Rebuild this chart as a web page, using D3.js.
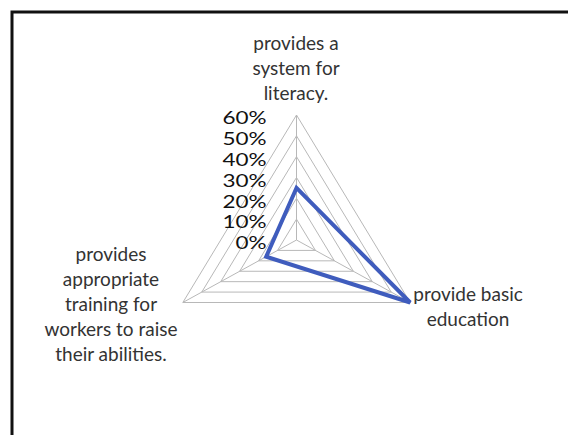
<!DOCTYPE html>
<html>
<head>
<meta charset="utf-8">
<script src="https://cdn.jsdelivr.net/npm/d3@7"></script>
<style>
  body { margin: 0; background: #fff; }
  svg { display: block; font-family: Lato, "Open Sans", sans-serif; }
</style>
</head>
<body>
<div id="chart"></div>
<script>
const width = 568;
const height = 435;

// data
const categories = [
    ["provides a", "system for", "literacy."],
    ["provide basic", "education"],
    ["provides", "appropriate", "training for", "workers to raise", "their abilities."]
];
const values = [0.25, 0.60, 0.16];
const tickValues = [0, 0.1, 0.2, 0.3, 0.4, 0.5, 0.6];

const cx = 296.5, cy = 240;
const xStretch = 1.05;

const svg = d3.select("#chart")
    .append("svg")
    .attr("width", width)
    .attr("height", height);

svg.append("rect")
    .attr("width", width)
    .attr("height", height)
    .attr("fill", "#fff");

// frame (cut at the right and bottom)
svg.append("path")
    .attr("d", `M12,${height + 5} L12,12 L${width + 5},12`)
    .attr("fill", "none")
    .attr("stroke", "#111")
    .attr("stroke-width", 3);

const rScale = d3.scaleLinear()
    .domain([0, 0.6])
    .range([0, 125]);

const angle = d3.scaleLinear()
    .domain([0, categories.length])
    .range([0, 2 * Math.PI]);

function pt(i, v) {
    const a = angle(i);
    return [cx + xStretch * rScale(v) * Math.sin(a), cy - rScale(v) * Math.cos(a)];
}

const line = d3.line().curve(d3.curveLinearClosed);

// grid rings
svg.append("g")
    .selectAll("path")
    .data(tickValues.filter(d => d > 0))
    .enter()
    .append("path")
    .attr("d", t => line(categories.map((c, i) => pt(i, t))))
    .attr("fill", "none")
    .attr("stroke", "#b8b8b8")
    .attr("stroke-width", 1);

// spokes
svg.append("g")
    .selectAll("line")
    .data(categories)
    .enter()
    .append("line")
    .attr("x1", cx)
    .attr("y1", cy)
    .attr("x2", (d, i) => pt(i, 0.6)[0])
    .attr("y2", (d, i) => pt(i, 0.6)[1])
    .attr("stroke", "#b8b8b8")
    .attr("stroke-width", 1);

// tick labels (wide font in the original, so stretch a bit)
svg.append("g")
    .selectAll("text")
    .data(tickValues)
    .enter()
    .append("text")
    .attr("transform", d => `translate(${cx - 30},${cy - rScale(d) + 3}) scale(1.25,1)`)
    .attr("dy", "0.35em")
    .attr("text-anchor", "end")
    .attr("fill", "#111")
    .style("font-size", "18px")
    .text(d3.format(".0%"));

// data series
svg.append("path")
    .attr("d", line(values.map((v, i) => pt(i, v))))
    .attr("fill", "none")
    .attr("stroke", "#3f5cbd")
    .attr("stroke-width", 4)
    .attr("stroke-linejoin", "miter");

// category labels
const labelPos = [
    { x: 296, y: 50 },
    { x: 468, y: 301 },
    { x: 111, y: 261 }
];

const labels = svg.append("g")
    .selectAll("text")
    .data(categories)
    .enter()
    .append("text")
    .attr("x", (d, i) => labelPos[i].x)
    .attr("y", (d, i) => labelPos[i].y)
    .attr("text-anchor", "middle")
    .attr("fill", "#333")
    .style("font-size", "19px");

labels.each(function(d, i) {
    d3.select(this).selectAll("tspan")
        .data(d)
        .enter()
        .append("tspan")
        .attr("x", labelPos[i].x)
        .attr("dy", (t, j) => j === 0 ? 0 : 25)
        .text(t => t);
});
</script>
</body>
</html>
